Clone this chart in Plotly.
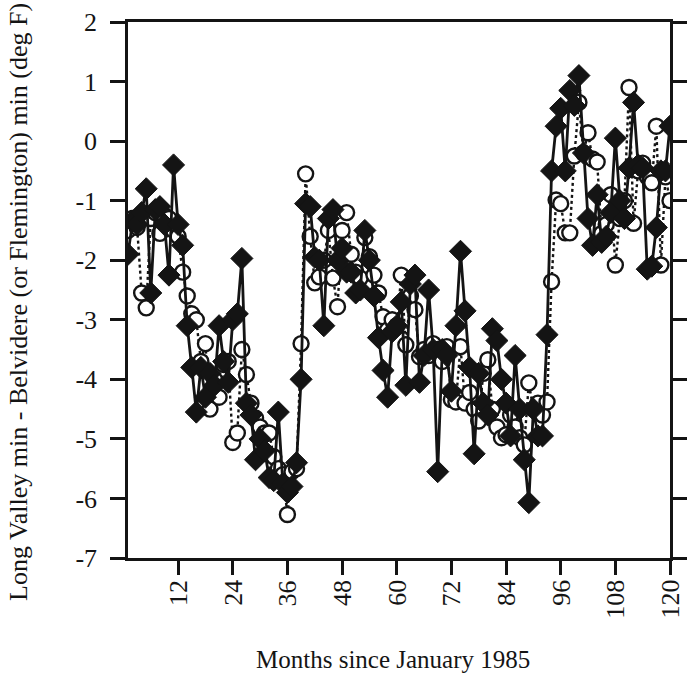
import plotly.graph_objects as go

months = list(range(1, 121))

long_valley_vs_belvidere = [
    -1.9, -1.35, -1.4, -1.2, -0.8, -2.55, -1.15, -1.1, -1.4, -2.25,
    -0.4, -1.4, -1.75, -3.1, -3.8, -4.55, -3.8, -4.3, -3.9, -4.1,
    -3.1, -3.7, -4.05, -3.0, -2.9, -1.97, -4.4, -4.6, -5.35, -5.0,
    -5.2, -5.65, -5.7, -4.55, -5.75, -5.9, -5.8, -5.4, -4.0, -1.05,
    -1.1, -1.95, -2.0, -3.1, -1.3, -1.15, -2.0, -1.8, -2.2, -2.2,
    -2.55, -2.5, -1.5, -2.0, -2.6, -3.3, -3.85, -4.3, -3.2, -3.1,
    -2.7, -4.1, -2.4, -2.25, -4.05, -3.6, -2.5, -3.5, -5.55, -3.5,
    -3.6, -4.2, -3.1, -1.85, -2.85, -3.8, -5.25, -3.9, -4.4, -4.6,
    -3.15, -3.35, -4.0, -4.4, -4.95, -3.6, -4.5, -5.35, -6.07, -4.5,
    -4.95, -4.95, -3.25, -0.5, 0.25, 0.55, -0.5, 0.85, 0.6, 1.1,
    -0.2, -1.3, -1.75, -0.9, -1.7, -1.6, -1.2, 0.05, -1.0, -1.3,
    -0.45, 0.65, -0.4, -0.45, -2.15, -2.1, -1.45, -0.5, -0.5, 0.25,
]

long_valley_vs_flemington = [
    -1.5, -1.3, -1.45, -2.55, -2.8, -1.3, -1.2, -1.55, -1.25, -1.3,
    -1.5, -1.6, -2.2, -2.6, -2.9, -3.0, -3.7, -3.4, -4.5, -4.0,
    -4.3, -3.75, -3.7, -5.06, -4.9, -3.5, -3.92, -4.4, -4.65, -4.8,
    -4.9, -4.9, -5.3, -5.5, -5.6, -6.27, -5.55, -5.5, -3.4, -0.55,
    -1.6, -2.38, -2.28, -2.0, -1.5, -2.3, -2.78, -1.5, -1.2, -1.9,
    -2.2, -2.3, -1.62, -1.94, -2.25, -2.55, -2.95, -3.17, -3.0, -3.1,
    -2.25, -3.42, -2.6, -2.83, -3.62, -3.5, -3.6, -3.4, -3.5, -3.7,
    -3.45, -4.34, -4.38, -3.45, -4.4, -4.22, -4.5, -4.7, -3.9, -3.67,
    -4.5, -4.8, -4.98, -4.93, -4.6, -4.8, -4.98, -5.1, -4.06, -4.5,
    -4.4, -4.6, -4.38, -2.36, -0.99, -1.05, -1.54, -1.54, -0.25, 0.65,
    -0.2, 0.14, -0.3, -0.35, -1.55, -1.4, -0.9, -2.08, -1.3, -1.0,
    0.9, -1.38, -0.5, -0.37, -0.6, -0.7, 0.25, -2.08, -0.6, -1.0,
]

x_tick_values = [12, 24, 36, 48, 60, 72, 84, 96, 108, 120]
y_tick_values = [2, 1, 0, -1, -2, -3, -4, -5, -6, -7]

x_title = "Months since January 1985"
y_title = "Long Valley min - Belvidere (or Flemington) min (deg F)"

FONT = "Liberation Serif, Times New Roman, serif"
INK = "#141414"

fig = go.Figure()
fig.add_trace(go.Scatter(
    x=months, y=long_valley_vs_flemington, mode="lines+markers",
    line=dict(color=INK, width=2.4, dash="dot"),
    marker=dict(symbol="circle", size=15, color="white",
                line=dict(color=INK, width=2.4)),
    showlegend=False,
))
fig.add_trace(go.Scatter(
    x=months, y=long_valley_vs_belvidere, mode="lines+markers",
    line=dict(color=INK, width=2.8),
    marker=dict(symbol="diamond", size=17, color=INK,
                line=dict(color=INK, width=1)),
    showlegend=False,
))

fig.update_layout(
    width=687, height=679,
    margin=dict(l=128, r=17, t=22, b=121),
    paper_bgcolor="white", plot_bgcolor="white",
    font=dict(family=FONT, color=INK, size=26),
)
fig.update_xaxes(
    range=[1, 120], tickvals=x_tick_values,
    ticks="outside", ticklen=14, tickwidth=2.5, tickcolor=INK,
    showline=True, linecolor=INK, linewidth=2.5, mirror=True,
    showgrid=False, zeroline=False, showticklabels=False,
    automargin=False,
)
fig.update_yaxes(
    range=[-7, 2], tickvals=y_tick_values, ticktext=[str(v) for v in y_tick_values],
    ticks="outside", ticklen=15, tickwidth=2.5, tickcolor=INK,
    showline=True, linecolor=INK, linewidth=2.5, mirror="ticks",
    showgrid=False, zeroline=False, ticklabelstandoff=8,
    tickfont=dict(family=FONT, size=26, color=INK),
    automargin=False,
)

# rotated x tick labels, centred on their ticks
for v in x_tick_values:
    fig.add_annotation(
        text=str(v), x=v, xref="x", yref="paper", y=(558 - 578) / 536,
        xanchor="center", yanchor="top", textangle=-90, showarrow=False,
        font=dict(family=FONT, size=26, color=INK),
    )

fig.add_annotation(
    text=x_title, xref="paper", yref="paper",
    x=(393 - 128) / 542, y=(558 - 659) / 536,
    xanchor="center", yanchor="middle", showarrow=False,
    font=dict(family=FONT, size=25, color=INK),
)
fig.add_annotation(
    text=y_title, xref="paper", yref="paper",
    x=(18 - 128) / 542, y=(558 - 302) / 536,
    xanchor="center", yanchor="middle", textangle=-90, showarrow=False,
    font=dict(family=FONT, size=26, color=INK),
)

fig.write_html(
    "out.html",
    config={"displayModeBar": False},
    post_script="document.body.style.margin='0';document.body.style.overflow='hidden';",
)
